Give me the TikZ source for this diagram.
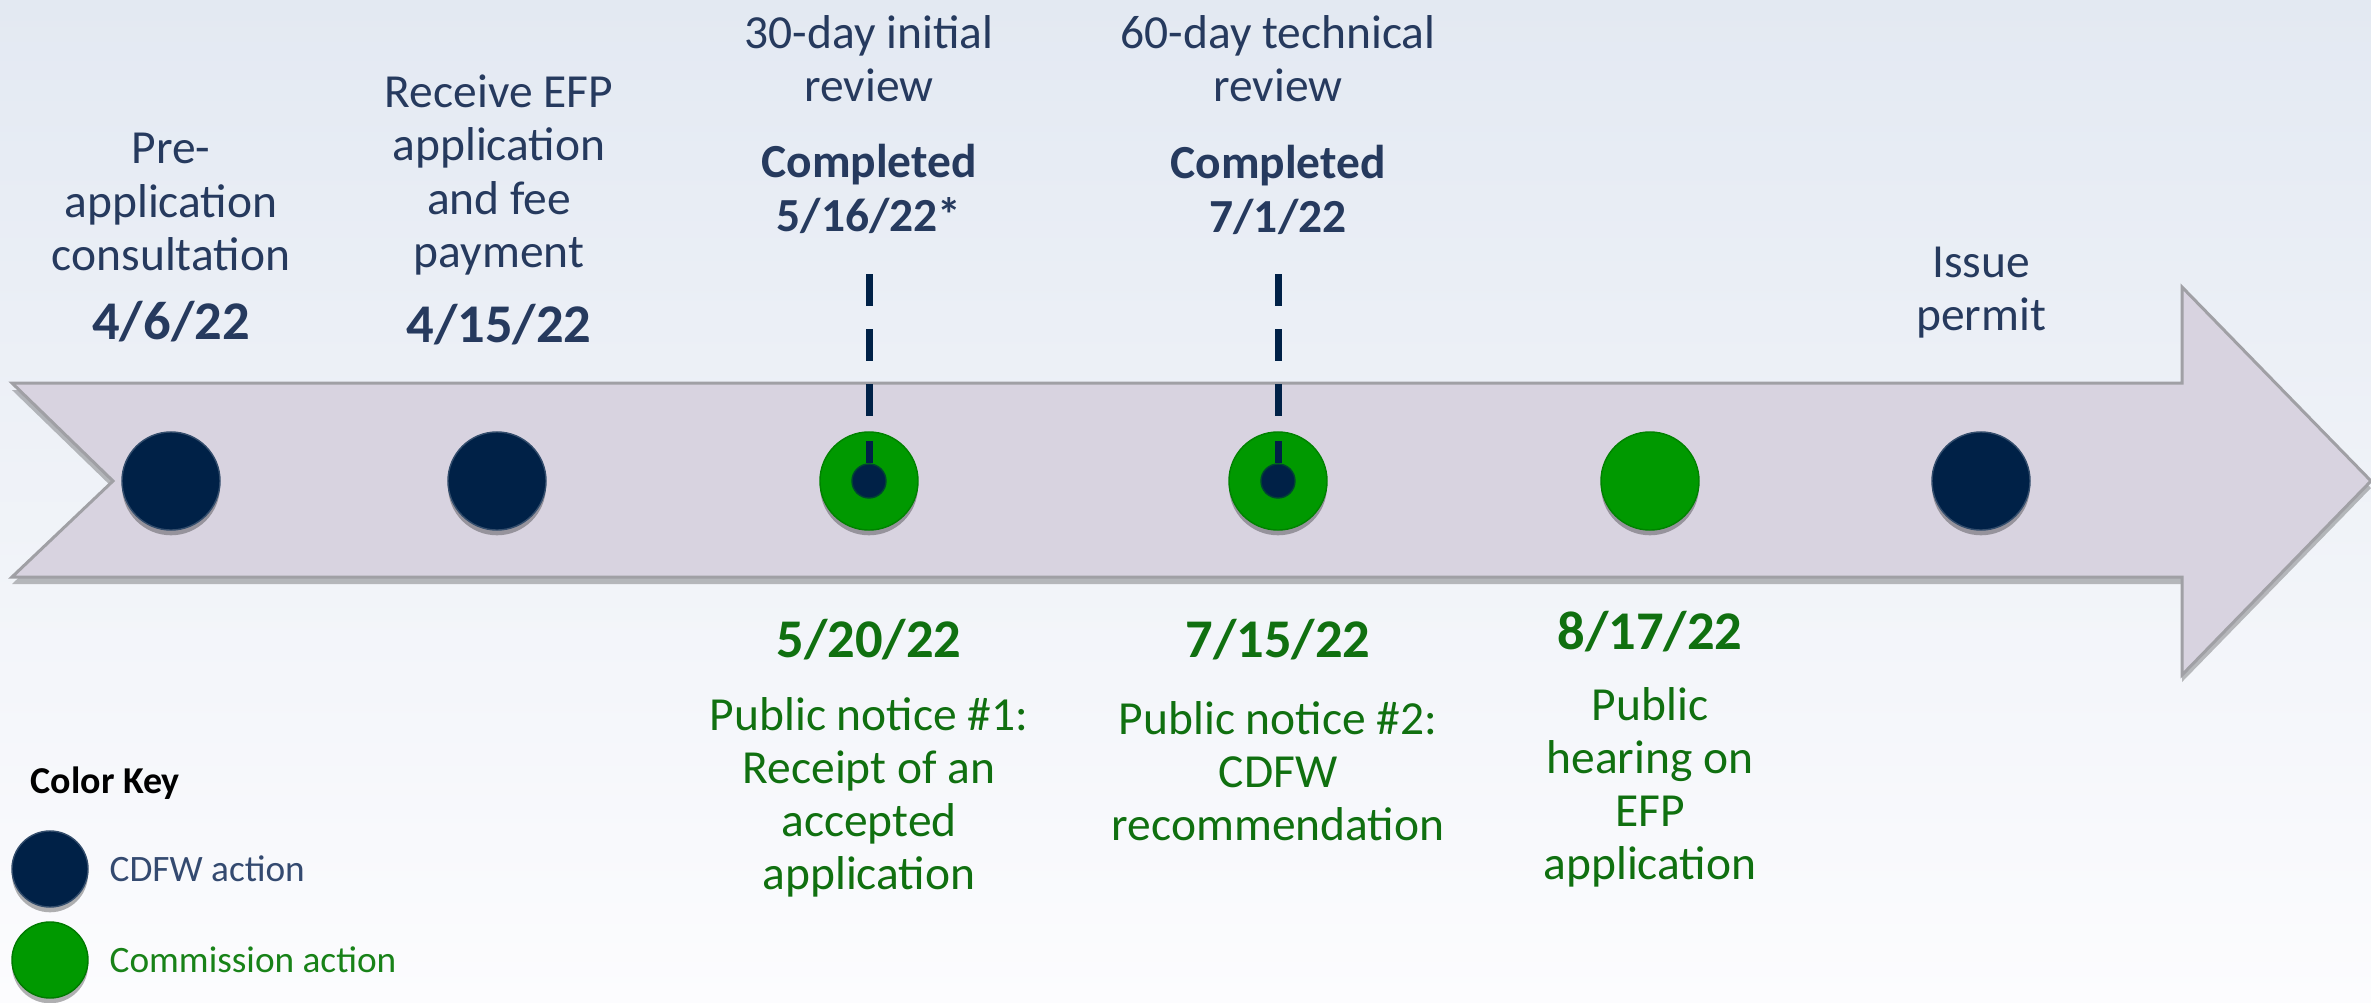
\documentclass[tikz,border=0pt]{standalone}
\usepackage{fontspec}
\setmainfont{Carlito}
\usetikzlibrary{shadows}
\definecolor{navy}{RGB}{0,33,71}
\definecolor{cgreen}{RGB}{0,153,0}
\definecolor{slate}{RGB}{38,58,94}
\definecolor{tgreen}{RGB}{16,112,16}
\definecolor{lgreen}{RGB}{24,130,24}
\definecolor{keyslate}{RGB}{52,74,112}
\definecolor{arrowfill}{RGB}{216,211,224}
\definecolor{arrowline}{RGB}{160,160,165}
\definecolor{bgtop}{RGB}{227,233,242}
\definecolor{bgbot}{RGB}{252,252,254}
\begin{document}
\begin{tikzpicture}[x=0.01cm,y=-0.01cm,
  lbl/.style={align=center, text=slate, font=\fontsize{13.5}{15.1}\selectfont, inner sep=0pt},
  blbl/.style={align=center, text=slate, font=\fontsize{13.5}{15.3}\selectfont\bfseries, inner sep=0pt},
  datelbl/.style={text=slate, font=\fontsize{15.5}{18}\selectfont\bfseries, inner sep=0pt},
  glbl/.style={align=center, text=tgreen, font=\fontsize{13.5}{15.1}\selectfont, inner sep=0pt},
  gdate/.style={text=tgreen, font=\fontsize{15.5}{18}\selectfont\bfseries, inner sep=0pt},
  shad/.style={drop shadow={shadow xshift=0pt, shadow yshift=-1.5pt, opacity=0.3, fill=black}},
  navydot/.style={circle, fill=navy, draw=navy!80!white, line width=0.4pt, minimum size=0.98cm, inner sep=0pt, shad},
  greendot/.style={circle, fill=cgreen, draw=cgreen!85!black, line width=0.4pt, minimum size=0.98cm, inner sep=0pt, shad},
  innerdot/.style={circle, fill=navy, draw=navy!70!cgreen, line width=0.4pt, minimum size=0.34cm, inner sep=0pt},
  keydot/.style={circle, minimum size=0.76cm, inner sep=0pt, shad},
  dashline/.style={draw=navy, line width=0.07cm, dash pattern=on 0.32cm off 0.23cm},
  stemline/.style={draw=navy, line width=0.07cm},
  keytext/.style={anchor=west, font=\fontsize{10.6}{12}\selectfont, inner sep=0pt}]

% background
\shade[top color=bgtop, bottom color=bgbot, use as bounding box] (0,0) rectangle (2371,1003);

% timeline arrow
\draw[fill=arrowfill, draw=arrowline, line width=0.03cm,
      drop shadow={shadow xshift=0pt, shadow yshift=-2pt, opacity=0.25, fill=black}]
  (12,383) -- (2182,383) -- (2182,287) -- (2371,481) -- (2182,675) -- (2182,577) -- (12,577) -- (113,481) -- cycle;

% milestones on the arrow
\node[navydot] (c1) at (171,481) {};
\node[navydot] (c2) at (497,481) {};
\node[greendot] (c3) at (869,481) {};
\node[greendot] (c4) at (1278,481) {};
\node[greendot] (c5) at (1650,481) {};
\node[navydot] (c6) at (1981,481) {};

% completed markers
\coordinate (t3) at (869,274);
\coordinate (b3) at (869,418);
\coordinate (t4) at (1278,274);
\coordinate (b4) at (1278,418);
\draw[dashline] (t3) -- (b3);
\draw[dashline] (t4) -- (b4);
\node[innerdot] (d3) at (869,481) {};
\node[innerdot] (d4) at (1278,481) {};
\draw[stemline] ([yshift=-0.1cm]c3.north) -- (d3.north);
\draw[stemline] ([yshift=-0.1cm]c4.north) -- (d4.north);

% labels above
\node[lbl] (l1) at (171,202) {Pre-\\application\\consultation};
\node[datelbl] (dt1) at (171,322) {4/6/22};
\node[lbl] (l2) at (499,175) {Receive EFP\\application\\and fee\\payment};
\node[datelbl] (dt2) at (499,325) {4/15/22};
\node[lbl] (l3) at (869,59) {30-day initial\\review};
\node[blbl] (dt3) at (869,189) {Completed\\5/16/22*};
\node[lbl] (l4) at (1278,59) {60-day technical\\review};
\node[blbl] (dt4) at (1278,190) {Completed\\7/1/22};
\node[lbl] (l6) at (1981,293) {Issue\\permit};

% labels below
\node[gdate] (g3) at (869,640) {5/20/22};
\node[glbl] (n3) at (869,797) {Public notice \#1:\\Receipt of an\\accepted\\application};
\node[gdate] (g4) at (1278,640) {7/15/22};
\node[glbl] (n4) at (1278,771) {Public notice \#2:\\CDFW\\recommendation};
\node[gdate] (g5) at (1650,632) {8/17/22};
\node[glbl] (n5) at (1650,787) {Public\\hearing on\\EFP\\application};

% color key
\node[anchor=west, inner sep=0pt, font=\fontsize{10.8}{12}\selectfont\bfseries, text=black] (key) at (30,783) {Color Key};
\node[keydot, fill=navy, draw=navy!80!white] (k1) at (50,869) {};
\node[keytext, text=keyslate] (kt1) at (109,869) {CDFW action};
\node[keydot, fill=cgreen, draw=cgreen!80!black] (k2) at (50,960) {};
\node[keytext, text=lgreen] (kt2) at (109,960) {Commission action};
\end{tikzpicture}
\end{document}
